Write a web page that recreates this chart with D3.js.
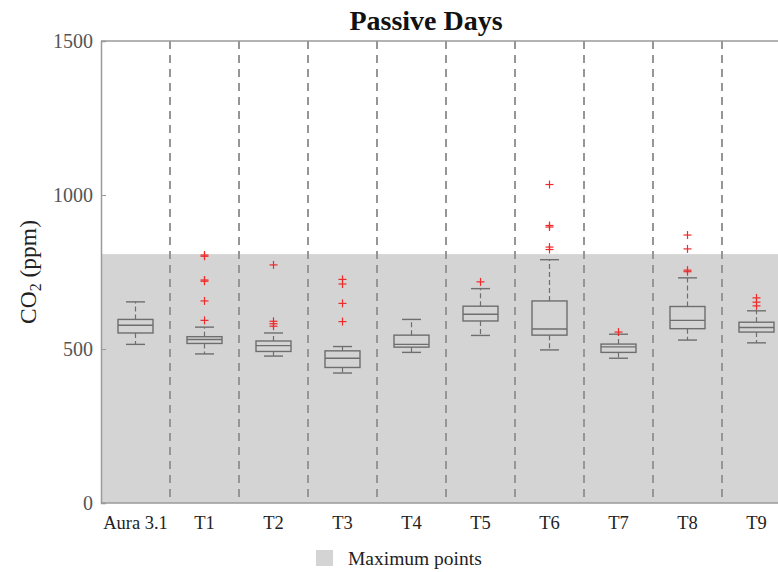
<!DOCTYPE html>
<html>
<head>
<meta charset="utf-8">
<script src="https://cdn.jsdelivr.net/npm/d3@7"></script>
<style>
  html, body { margin: 0; padding: 0; background: #fff; }
  svg { display: block; }
</style>
</head>
<body>
<svg id="chart" width="778" height="572"></svg>
<script>
const categories = ["Aura 3.1", "T1", "T2", "T3", "T4", "T5", "T6", "T7", "T8", "T9"];
const whiskerLow  = [515, 484, 477, 422, 489, 544, 497, 470, 529, 520];
const q1          = [552, 518, 492, 440, 506, 591, 545, 489, 566, 555];
const median      = [577, 531, 511, 470, 515, 613, 565, 507, 593, 570];
const q3          = [596, 540, 526, 494, 545, 639, 656, 516, 638, 587];
const whiskerHigh = [653, 571, 552, 508, 596, 696, 790, 548, 731, 624];
const outliers = [
  [],
  [593, 656, 720, 724, 801, 805],
  [574, 582, 590, 773],
  [589, 648, 711, 726],
  [],
  [718],
  [823, 831, 896, 901, 1034],
  [555],
  [751, 756, 825, 870],
  [640, 652, 666]
];
const maxPoints = 808;
const yTicks = [0, 500, 1000, 1500];
const title = "Passive Days";
const legendLabel = "Maximum points";

const svg = d3.select("#chart");
const FONT = "'Liberation Serif', 'Times New Roman', serif";

const x = d3.scaleBand().domain(categories).range([101, 791]).padding(0);
const y = d3.scaleLinear().domain([0, 1500]).range([503, 41]);

// grey max-points region
svg.append("rect")
  .attr("x", x.range()[0]).attr("width", x.range()[1] - x.range()[0])
  .attr("y", y(maxPoints)).attr("height", y(0) - y(maxPoints))
  .attr("fill", "#d4d4d4");

// dashed dividers
svg.append("g").selectAll("line")
  .data(categories.slice(1))
  .join("line")
  .attr("x1", d => x(d)).attr("x2", d => x(d))
  .attr("y1", y(1500)).attr("y2", y(0))
  .attr("stroke", "#969696").attr("stroke-width", 2)
  .attr("stroke-dasharray", "8,6");

// axes frame
const axisColor = "#9a9a9a";
svg.append("line").attr("x1", 101).attr("x2", 778).attr("y1", y(1500)).attr("y2", y(1500))
  .attr("stroke", axisColor).attr("stroke-width", 1.5);
svg.append("line").attr("x1", 101).attr("x2", 778).attr("y1", y(0)).attr("y2", y(0))
  .attr("stroke", axisColor).attr("stroke-width", 1.5);

const yAxis = d3.axisLeft(y).tickValues(yTicks).tickSize(-5).tickPadding(10).tickFormat(d3.format("d"));
const gy = svg.append("g").attr("transform", "translate(101,0)").call(yAxis);
gy.select(".domain").attr("stroke", axisColor).attr("stroke-width", 1.5);
gy.selectAll(".tick line").attr("stroke", axisColor);
gy.selectAll(".tick text").attr("font-family", FONT).attr("font-size", 20).attr("fill", "#555").attr("x", -8);

// x category labels
svg.append("g").selectAll("text")
  .data(categories)
  .join("text")
  .attr("x", d => x(d) + x.bandwidth() / 2)
  .attr("y", 529)
  .attr("text-anchor", "middle")
  .attr("font-family", FONT).attr("font-size", 18.5).attr("fill", "#222")
  .text(d => d);

// boxplots
const boxW = 35, capW = 19;
const boxColor = "#6e6e6e";
const g = svg.append("g").selectAll("g").data(categories).join("g")
  .attr("transform", d => `translate(${x(d) + x.bandwidth() / 2},0)`);

g.append("line") // upper whisker
  .attr("x1", 0).attr("x2", 0)
  .attr("y1", (d, i) => y(q3[i])).attr("y2", (d, i) => y(whiskerHigh[i]))
  .attr("stroke", boxColor).attr("stroke-width", 1.2).attr("stroke-dasharray", "5,3");
g.append("line") // lower whisker
  .attr("x1", 0).attr("x2", 0)
  .attr("y1", (d, i) => y(q1[i])).attr("y2", (d, i) => y(whiskerLow[i]))
  .attr("stroke", boxColor).attr("stroke-width", 1.2).attr("stroke-dasharray", "5,3");
g.append("line").attr("x1", -capW / 2).attr("x2", capW / 2)
  .attr("y1", (d, i) => y(whiskerHigh[i])).attr("y2", (d, i) => y(whiskerHigh[i]))
  .attr("stroke", boxColor).attr("stroke-width", 1.4);
g.append("line").attr("x1", -capW / 2).attr("x2", capW / 2)
  .attr("y1", (d, i) => y(whiskerLow[i])).attr("y2", (d, i) => y(whiskerLow[i]))
  .attr("stroke", boxColor).attr("stroke-width", 1.4);
g.append("rect")
  .attr("x", -boxW / 2).attr("width", boxW)
  .attr("y", (d, i) => y(q3[i])).attr("height", (d, i) => y(q1[i]) - y(q3[i]))
  .attr("fill", "none").attr("stroke", boxColor).attr("stroke-width", 1.4);
g.append("line").attr("x1", -boxW / 2).attr("x2", boxW / 2)
  .attr("y1", (d, i) => y(median[i])).attr("y2", (d, i) => y(median[i]))
  .attr("stroke", boxColor).attr("stroke-width", 1.4);

// outliers
const pl = 4;
g.each(function(d, i) {
  const sel = d3.select(this).selectAll("g.out").data(outliers[i]).join("g").attr("class", "out")
    .attr("transform", v => `translate(0,${y(v)})`);
  sel.append("line").attr("x1", -pl).attr("x2", pl).attr("stroke", "#ee2a2a").attr("stroke-width", 1.2);
  sel.append("line").attr("y1", -pl).attr("y2", pl).attr("stroke", "#ee2a2a").attr("stroke-width", 1.2);
});

// title
svg.append("text").attr("x", 426).attr("y", 30).attr("text-anchor", "middle")
  .attr("font-family", FONT).attr("font-size", 28).attr("font-weight", "bold").attr("fill", "#111")
  .text(title);

// y label
const yl = svg.append("text")
  .attr("transform", `translate(36,${(y(0) + y(1500)) / 2}) rotate(-90)`)
  .attr("text-anchor", "middle")
  .attr("font-family", FONT).attr("font-size", 23.5).attr("fill", "#222");
yl.append("tspan").text("CO");
yl.append("tspan").attr("font-size", 16).attr("dy", 5).text("2");
yl.append("tspan").attr("dy", -5).text(" (ppm)");

// legend
svg.append("rect").attr("x", 316).attr("y", 550).attr("width", 17).attr("height", 16).attr("fill", "#d4d4d4");
svg.append("text").attr("x", 348).attr("y", 565)
  .attr("font-family", FONT).attr("font-size", 19.5).attr("fill", "#222")
  .text(legendLabel);
</script>
</body>
</html>
